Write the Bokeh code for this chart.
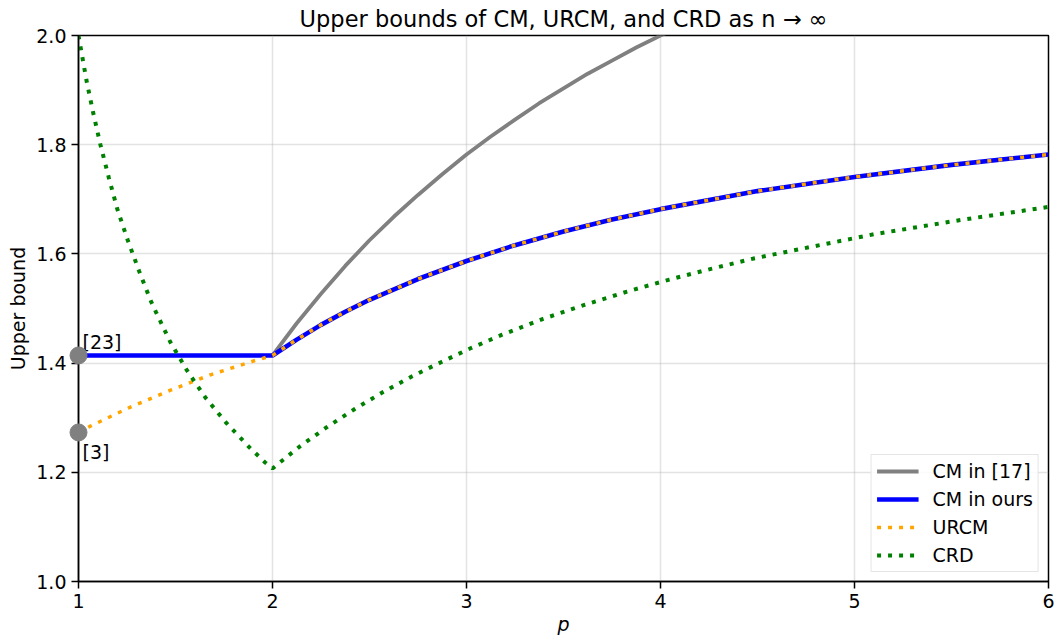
from bokeh.plotting import figure
from bokeh.models import Range1d, FixedTicker, PrintfTickFormatter, Label
from bokeh.embed import file_html
from bokeh.resources import INLINE

# ---- data ----
p_cm17 = [2.0, 2.125, 2.25, 2.375, 2.5, 2.625, 2.75, 2.875, 3.0, 3.125, 3.25, 3.375, 3.5,
          3.625, 3.75, 3.875, 4.0, 4.25]
cm17 = [1.414, 1.473, 1.527, 1.578, 1.625, 1.668, 1.708, 1.746, 1.782, 1.815, 1.846, 1.876, 1.903,
        1.930, 1.954, 1.978, 2.0, 2.041]

p_ours = [1.0, 2.0, 2.125, 2.25, 2.375, 2.5, 2.75, 3.0, 3.25, 3.5, 3.75, 4.0, 4.5, 5.0, 5.5, 6.0]
cm_ours = [1.414, 1.414, 1.443, 1.470, 1.494, 1.516, 1.554, 1.587, 1.616, 1.641, 1.663, 1.682,
           1.715, 1.741, 1.763, 1.782]

p_urcm = [1.0, 1.058, 1.265, 1.471, 1.684, 1.904, 2.0, 2.125, 2.25, 2.375, 2.5, 2.75, 3.0,
          3.25, 3.5, 3.75, 4.0, 4.5, 5.0, 5.5, 6.0]
urcm = [1.273, 1.284, 1.319, 1.350, 1.379, 1.404, 1.414, 1.443, 1.470, 1.494, 1.516, 1.554, 1.587,
        1.616, 1.641, 1.663, 1.682, 1.715, 1.741, 1.763, 1.782]

p_crd = [1.0, 1.041, 1.076, 1.113, 1.156, 1.201, 1.254, 1.313, 1.375, 1.400, 1.474, 1.560,
         1.656, 1.763, 1.880, 1.962, 2.0,
         2.143, 2.282, 2.424, 2.570, 2.720, 2.871, 3.026, 3.184, 3.395, 3.612, 3.828,
         4.046, 4.265, 4.486, 4.708, 4.876, 5.100, 5.323, 5.546, 5.772, 6.0]
crd = [2.0, 1.918, 1.858, 1.800, 1.740, 1.681, 1.625, 1.568, 1.512, 1.493, 1.438, 1.386,
       1.336, 1.290, 1.246, 1.218, 1.207,
       1.248, 1.283, 1.316, 1.347, 1.376, 1.402, 1.428, 1.452, 1.481, 1.507, 1.531,
       1.553, 1.573, 1.592, 1.608, 1.620, 1.636, 1.649, 1.662, 1.674, 1.686]

marker_p = [1.0, 1.0]
marker_y = [1.414, 1.273]
marker_text = ["[23]", "[3]"]

x_ticks = [1, 2, 3, 4, 5, 6]
y_ticks = [1.0, 1.2, 1.4, 1.6, 1.8, 2.0]

FONT = "DejaVu Sans"
FS = "19px"

p = figure(width=1054, height=639, x_range=Range1d(1, 6), y_range=Range1d(1, 2),
           output_backend="svg", toolbar_location=None,
           min_border_left=78, min_border_right=6, min_border_top=35, min_border_bottom=58)
p.background_fill_color = "white"
p.border_fill_color = "white"
p.outline_line_color = "black"
p.outline_line_width = 1.5

p.title.text = "Upper bounds of CM, URCM, and CRD as n \u2192 \u221e"
p.title.align = "center"
p.title.text_font = FONT
p.title.text_font_size = "22.5px"
p.title.text_font_style = "normal"
p.title.text_color = "black"
p.title.standoff = 7

p.xaxis.ticker = FixedTicker(ticks=x_ticks)
p.yaxis.ticker = FixedTicker(ticks=y_ticks)
p.xaxis.formatter = PrintfTickFormatter(format="%d")
p.yaxis.formatter = PrintfTickFormatter(format="%.1f")
for ax in (p.xaxis[0], p.yaxis[0]):
    ax.axis_line_color = "black"
    ax.axis_line_width = 1.5
    ax.major_tick_line_width = 1.5
    ax.major_tick_out = 7
    ax.major_tick_in = 0
    ax.minor_tick_line_color = None
    ax.major_label_text_font = FONT
    ax.major_label_text_font_size = FS
    ax.major_label_text_color = "black"
    ax.major_label_standoff = 5
    ax.axis_label_text_font = FONT
    ax.axis_label_text_font_size = FS
    ax.axis_label_text_color = "black"
p.xaxis.axis_label = "p"
p.xaxis.axis_label_text_font_style = "italic"
p.xaxis.axis_label_standoff = 2
p.yaxis.axis_label = "Upper bound"
p.yaxis.axis_label_text_font_style = "normal"
p.yaxis.axis_label_standoff = 4

p.grid.grid_line_color = "#b0b0b0"
p.grid.grid_line_alpha = 0.35
p.grid.grid_line_width = 1.5

p.line(p_cm17, cm17, line_color="#808080", line_width=3.8, legend_label="CM in [17]")
p.line(p_ours, cm_ours, line_color="#0000ff", line_width=4.6, legend_label="CM in ours")
p.line(p_urcm, urcm, line_color="#ffa500", line_width=3.5, line_dash="4 7", legend_label="URCM")
p.line(p_crd, crd, line_color="#008000", line_width=4, line_dash="4 7", legend_label="CRD")
p.scatter(marker_p, marker_y, size=17, fill_color="#808080", line_color="#808080", level="overlay")

p.add_layout(Label(x=marker_p[0], y=marker_y[0], text=marker_text[0], x_offset=4, y_offset=13,
                   text_baseline="alphabetic", text_font=FONT, text_font_size=FS, text_color="black"))
p.add_layout(Label(x=marker_p[1], y=marker_y[1], text=marker_text[1], x_offset=4, y_offset=-9,
                   text_baseline="top", text_font=FONT, text_font_size=FS, text_color="black"))

lg = p.legend[0]
lg.location = "bottom_right"
lg.margin = 9
lg.padding = 5
lg.spacing = 6
lg.glyph_width = 42
lg.glyph_height = 22
lg.label_height = 22
lg.label_standoff = 14
lg.label_text_font = FONT
lg.label_text_font_size = FS
lg.label_text_color = "black"
lg.border_line_color = "#cccccc"
lg.border_line_width = 1.5
lg.background_fill_color = "white"
lg.background_fill_alpha = 0.85

open("out.html", "w").write(file_html(p, INLINE))
